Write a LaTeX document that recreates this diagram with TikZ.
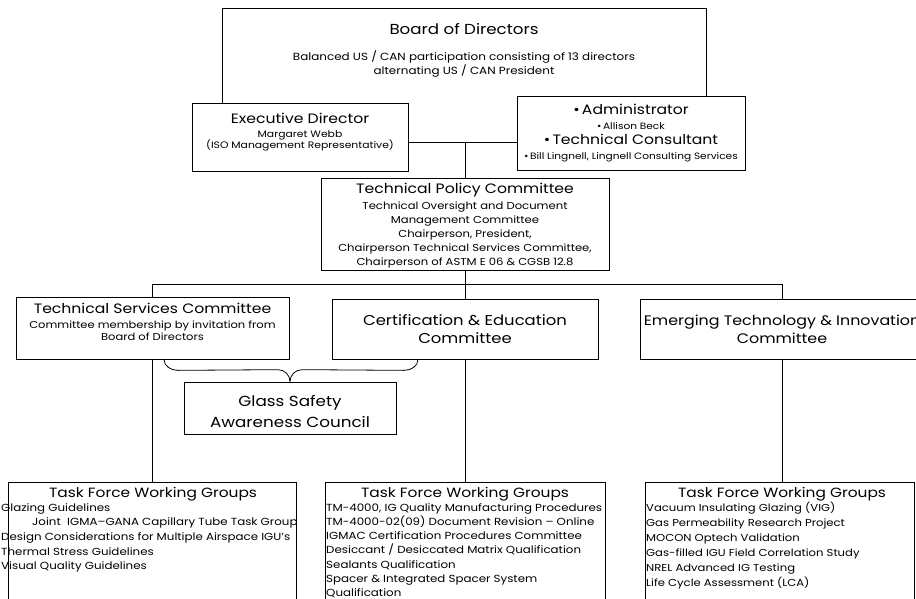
\documentclass[tikz,border=0pt]{standalone}
\usepackage{fontspec}
\setmainfont{Poppins}[FakeStretch=1.15]

\newcommand\ttlfont{\fontsize{13.6}{16}\selectfont}
\newcommand\bigfont{\fontsize{14.3}{18}\selectfont}

\begin{document}
\begin{tikzpicture}[x=1pt,y=-1pt,
    box/.style={draw, fill=white, line width=0.7pt, inner sep=0pt},
    txt/.style={align=center, inner sep=0pt},
    tflist/.style={align=left, inner sep=0pt, anchor=north west, font=\fontsize{10.3}{14.7}\selectfont},
    tftitle/.style={txt, font=\fontsize{13.4}{16}\selectfont},
    link/.style={line width=0.8pt}]
\useasboundingbox (0,0) rectangle (916,598);
\clip (0,0) rectangle (916,598);

% board and staff
\node[box, minimum width=484pt, minimum height=134pt] (board) at (464,75) {};
\node[txt, font=\fontsize{10.4}{12.5}\selectfont] (boardtxt) at (464,50)
  {{\fontsize{14.5}{17}\selectfont Board of Directors}\\[14pt]
   Balanced US / CAN participation consisting of 13 directors\\
   alternating US / CAN President};
\node[box, minimum width=216pt, minimum height=68pt] (exec) at (300,137) {};
\node[txt, font=\fontsize{9.4}{11.5}\selectfont] (exectxt) at (300,132.5)
  {{\ttlfont Executive Director}\\[2pt]
   Margaret Webb\\
   (ISO Management Representative)};
\node[box, minimum width=228pt, minimum height=74pt, txt, font=\fontsize{9.2}{15}\selectfont] (admin) at (631,133)
  {{\ttlfont\textbullet\,Administrator}\\
   \textbullet\,Allison Beck\\
   {\ttlfont\textbullet\,Technical Consultant}\\
   \textbullet\,Bill Lingnell, Lingnell Consulting Services};
\node[box, minimum width=288pt, minimum height=92pt] (tpc) at (465,224) {};
\node[txt, font=\fontsize{10.1}{14}\selectfont] (tpctxt) at (465,226)
  {{\ttlfont Technical Policy Committee}\\[2pt]
   Technical Oversight and Document\\
   Management Committee\\
   Chairperson, President,\\
   Chairperson Technical Services Committee,\\
   Chairperson of ASTM E 06 \& CGSB 12.8};

% committees
\node[box, minimum width=273pt, minimum height=62pt] (tsc) at (152.5,328) {};
\node[txt, font=\fontsize{10}{12}\selectfont] (tsctxt) at (152.5,322)
  {{\ttlfont Technical Services Committee}\\[3pt]
   Committee membership by invitation from\\
   Board of Directors};
\node[box, minimum width=266pt, minimum height=60pt, txt, font=\bigfont] (cert) at (465,329)
  {Certification \& Education\\ Committee};
\node[box, minimum width=284pt, minimum height=60pt, txt, font=\fontsize{13.8}{18}\selectfont] (emerg) at (782,329)
  {Emerging Technology \& Innovation\\ Committee};
\node[box, minimum width=212pt, minimum height=52pt] (gsac) at (290,408) {};
\node[txt, font=\fontsize{14.6}{21}\selectfont] (gsactxt) at (290,411)
  {Glass Safety\\ Awareness Council};

% task force working groups
\node[box, minimum width=288pt, minimum height=140pt] (tf1) at (152,552) {};
\node[box, minimum width=280pt, minimum height=140pt] (tf2) at (465,552) {};
\node[box, minimum width=269pt, minimum height=140pt] (tf3) at (779.5,552) {};
\node[tftitle] (tf1ttl) at (153,494) {Task Force Working Groups};
\node[tftitle] (tf2ttl) at (465,494) {Task Force Working Groups};
\node[tftitle] (tf3ttl) at (782,494) {Task Force Working Groups};
\node[tflist] (tf1list) at (1,503)
  {Glazing Guidelines\\
   \hspace*{31pt}Joint \ IGMA–GANA Capillary Tube Task Group\\
   Design Considerations for Multiple Airspace IGU’s\\
   Thermal Stress Guidelines\\
   Visual Quality Guidelines};
\node[tflist, font=\fontsize{10.3}{14.3}\selectfont] (tf2list) at (326,503)
  {TM-4000, IG Quality Manufacturing Procedures\\
   TM-4000-02(09) Document Revision – Online\\
   IGMAC Certification Procedures Committee\\
   Desiccant / Desiccated Matrix Qualification\\
   Sealants Qualification\\
   Spacer \& Integrated Spacer System\\
   Qualification};
\node[tflist, font=\fontsize{10.1}{14.9}\selectfont] (tf3list) at (646,502)
  {Vacuum Insulating Glazing (VIG)\\
   Gas Permeability Research Project\\
   MOCON Optech Validation\\
   Gas-filled IGU Field Correlation Study\\
   NREL Advanced IG Testing\\
   Life Cycle Assessment (LCA)};

% connectors
\draw[link] (exec.east |- board.south) -- (admin.west |- board.south);
\draw[link] (tpc.north |- board.south) -- (tpc.north);
\draw[link] (tpc.south) -- (cert.north);
\coordinate (bus) at ([yshift=-14pt]tpc.south);
\draw[link] (tsc.north) |- (bus) -| (emerg.north);
\draw[link] (tsc.south) -- (tsc.south |- tf1.north);
\draw[link] (cert.south) -- (cert.south |- tf2.north);
\draw[link] (emerg.south) -- (emerg.south |- tf3.north);
\draw[link] ([xshift=11.5pt]tsc.south) to[out=-90,in=180] ++(14,11)
  -- ([xshift=-12pt,yshift=12pt]gsac.north) to[out=0,in=90] (gsac.north)
  to[out=90,in=180] ([xshift=12pt,yshift=12pt]gsac.north)
  -- ([xshift=-61pt,yshift=-11pt]cert.south) to[out=0,in=-90] ([xshift=-47pt]cert.south);
\end{tikzpicture}
\end{document}
